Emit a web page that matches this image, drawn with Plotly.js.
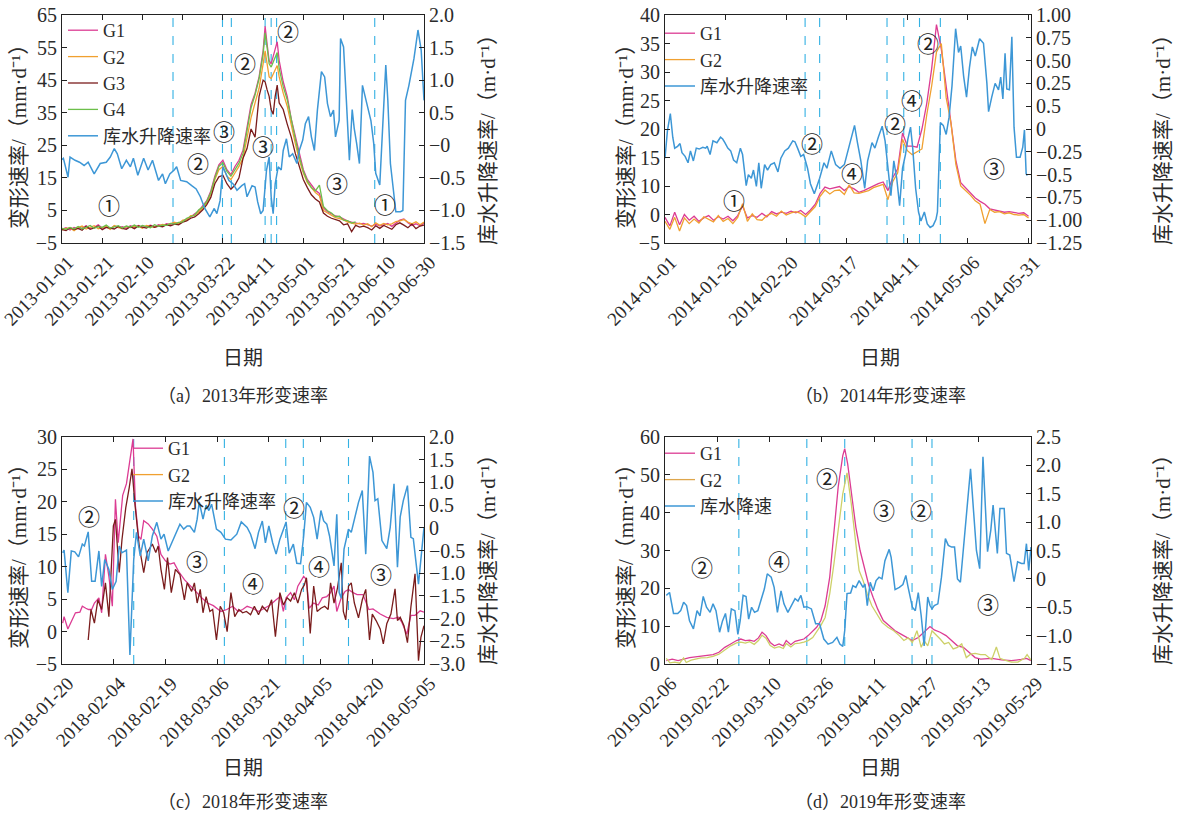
<!DOCTYPE html>
<html><head><meta charset="utf-8">
<script src="https://cdn.plot.ly/plotly-3.0.1.min.js"></script>
<style>html,body{margin:0;padding:0;background:#fff}#chart{width:1184px;height:817px}</style>
</head><body><div id="chart"></div>
<script>
// ---------------- Panel (a) 2013 ----------------
const startA = '2013-01-01';
const gDayA = [0,2,4,6,8,10,12,14,16,18,20,22,24,26,28,30,32,34,36,38,40,42,44,46,48,50,52,54,56,58,60,62,64,66,68,70,72,74,76,78,80,82,84,86,88,90,92,94,96,98,100,101,102,103,104,105,106,107,108,110,112,114,116,118,120,122,124,126,128,130,132,134,136,138,140,142,144,146,148,150,152,154,156,158,160,162,164,166,168,170,172,174,176,178,180];
const g1A = [-0.8,-0.3,-1.0,-0.2,-0.6,-0.4,0.3,-0.5,-0.2,0.6,-0.4,-0.1,-0.6,0.2,-0.3,0.0,-0.5,0.3,-0.2,0.4,-0.3,0.2,0.5,0.0,0.6,0.3,0.9,0.7,1.2,
 1.0,1.8,2.3,3.0,4.0,4.8,6.5,8.0,11.0,15.5,19.0,20.4,17.5,16.0,18.5,20.4,23.5,30.5,37.5,41.0,46.0,54.0,
 61.5,56.0,51.0,50.0,52.0,54.5,56.8,
 51.0,44.5,40.0,33.0,27.5,22.0,17.5,14.5,12.8,11.2,10.2,5.8,4.6,4.0,3.3,3.0,2.4,1.7,1.4,1.2,0.9,1.0,0.6,0.2,0.7,0.3,0.6,1.0,0.1,1.0,2.0,2.4,1.2,0.4,0.9,0.3,1.1];
const g2A = [-1.0,-0.5,-0.4,-1.2,-0.3,0.2,-0.7,-0.1,0.3,-0.6,-0.2,0.1,-0.8,0.4,-0.2,-0.6,0.1,-0.3,0.0,0.2,-0.5,0.4,0.1,-0.2,0.3,0.7,0.5,0.9,1.4,
 0.8,2.0,2.0,3.4,3.5,4.5,5.8,7.2,10.0,14.5,17.5,18.5,15.5,14.5,16.5,18.5,21.0,27.0,33.5,38.0,42.5,50.0,
 54.0,50.0,46.0,45.5,47.0,48.5,49.5,
 46.0,41.0,37.0,31.0,25.5,20.5,16.5,13.5,12.0,10.5,9.5,5.0,4.2,3.5,2.8,2.5,2.1,1.4,1.0,0.8,1.1,0.5,0.9,0.0,1.2,0.4,1.0,0.6,0.9,1.6,1.8,2.2,1.4,0.9,1.5,0.6,1.4];
const g3A = [-0.9,-1.2,-0.3,-0.9,-0.5,-1.1,0.1,-0.8,-0.4,0.2,-0.9,-0.2,-0.4,-0.7,0.1,-0.5,-0.8,0.0,-0.6,0.2,-0.1,-0.4,0.3,-0.2,0.2,0.0,0.6,0.3,0.8,
 0.6,1.4,1.8,2.6,3.0,4.0,5.2,6.8,9.0,13.2,15.3,15.8,13.2,11.5,12.8,15.0,21.0,24.0,30.0,27.5,40.0,45.0,
 44.5,42.0,40.0,36.0,34.5,40.0,43.5,
 38.0,36.0,31.5,27.5,22.5,18.5,14.5,12.0,9.8,8.5,7.6,4.2,3.2,2.6,2.1,1.8,0.6,0.9,-1.5,0.4,-0.1,0.2,-0.3,-1.0,0.3,-0.5,0.4,-0.2,-0.8,0.6,1.2,0.5,-0.3,0.8,-0.6,0.2,0.5];
const g4A = [-0.5,-0.8,-0.2,-0.7,0.1,-0.6,-0.2,0.4,-0.5,0.0,-0.2,0.5,-0.4,-0.1,0.3,-0.4,0.2,-0.1,0.5,-0.2,0.4,0.0,-0.3,0.6,0.1,0.5,0.4,1.0,0.8,
 1.3,1.5,2.6,3.2,3.6,5.2,6.0,7.8,10.5,15.0,18.5,19.6,17.0,15.5,17.5,19.5,22.5,29.5,36.5,40.5,45.5,53.0,
 59.5,55.0,50.0,49.0,50.5,52.5,53.5,
 48.5,43.0,39.0,32.5,27.0,21.5,17.0,14.0,12.0,11.0,12.8,6.2,4.9,4.2,3.1,3.2,2.0,1.9,1.1,1.5,null,null,null,null,null,null,null,null,null,null,null,null,null,null,null,null,null];
const blueDayA = [0,0.7,3,4,6.5,8.7,11,13,16,19,22,24,26,27.5,29.7,32,34,35.5,37.7,40.6,42.8,45,48,50,51.4,53.6,55.8,57,59,62,64.5,66.7,68.8,71,73.5,75.7,77,78.6,80,81.4,83,85,87,89.4,90.8,92,94.5,96,97.3,98.8,100,101.7,103,104,105,106,107.5,109,110,111.6,113,114.7,116.8,118,119.7,121,122.6,124,125.5,127,129,130.6,132,133.5,135,136,137.8,138.5,140,141.4,142.9,144.3,145.3,146.5,147.9,149.4,150.8,152,153.6,155,156,158,161,162,163.3,166,168.3,169.5,170.8,172.5,175,177,178.6,180];
const blueA = [-0.22,-0.2,-0.49,-0.18,-0.23,-0.26,-0.31,-0.26,-0.44,-0.28,-0.26,-0.18,-0.05,-0.13,-0.36,-0.23,-0.33,-0.2,-0.46,-0.2,-0.38,-0.23,-0.54,-0.44,-0.59,-0.44,-0.38,-0.33,-0.54,-0.56,-0.62,-0.67,-0.79,-0.97,-1.1,-0.97,-1.05,-0.85,-0.33,-0.44,-0.54,-0.59,-0.69,-0.62,-0.59,-0.79,-0.62,-0.64,-0.87,-1.05,-1.0,-0.38,-0.18,-0.79,-1.05,-0.59,-0.33,-0.38,-0.08,0.1,-0.18,-0.13,-0.28,-0.08,0.08,0.33,0.44,0.13,-0.08,0.54,1.13,1.05,0.64,0.44,0.54,0.13,0.38,1.64,1.51,0.69,-0.23,0.55,0.26,0.03,-0.28,0.92,0.74,0.54,0.38,0.03,-0.43,-0.61,1.23,0.7,-0.28,-1.02,-1.02,-1.0,0.69,0.92,1.33,1.77,1.46,0.69];
const dashA = [55.2,79.8,84.2,101.0,104.0,106.7,155.5];
const circA = ['①','②','③','②','③','②','③','①'];
const circDayA = [23.5,67.5,80.5,91.2,100.1,112.6,136.7,160.4];
const circValA = [7.1,19.8,29.7,50.6,25.0,60.3,13.7,7.2];
const xticksA = ['2013-01-01','2013-01-21','2013-02-10','2013-03-02','2013-03-22','2013-04-11','2013-05-01','2013-05-21','2013-06-10','2013-06-30'];
const yValsA = [-5,5,15,25,35,45,55,65];
const yTextA = ['\u22125','5','15','25','35','45','55','65'];
const y2ValsA = [-1.5,-1,-0.5,0,0.5,1,1.5,2];
const y2TextA = ['\u22121.5','\u22121.0','\u22120.5','\u22120','0.5','1.0','1.5','2.0'];

// ---------------- Panel (b) 2014 ----------------
const startB = '2014-01-01';
const gDayB = [0,2,4,6,8,10,12,14,16,18,20,22,24,26,28,30,32,34,36,38,40,42,44,46,48,50,52,54,56,58,60,62,64,66,68,70,72,74,76,78,80,82,84,86,88,90,92,94,96,98,100,102,104,106,108,110,112,114,116,118,120,122,124,126,128,130,132,134,136,138,140,142,144,146,148,150];
const g1B = [-0.5,-2.0,0.4,-1.8,0.0,-1.0,-0.3,-1.2,-0.6,-0.2,-1.0,-0.4,-0.8,-0.3,-1.1,-0.2,
 1.5,-0.6,-0.2,-0.5,0.2,-0.4,0.5,0.1,0.4,0.2,0.6,0.3,0.7,0.0,0.8,1.8,
 3.7,4.8,4.5,4.7,4.9,4.2,4.9,4.5,3.9,4.2,4.6,5.1,5.4,5.7,4.2,6.5,
 8.0,14.3,12.0,12.0,11.8,15.0,19.5,25.5,33.3,29.0,22.5,16.5,9.5,5.6,4.7,3.9,
 2.9,2.3,1.8,1.0,0.8,0.6,0.4,0.5,0.3,0.2,0.3,-0.3];
const g2B = [-1.2,-2.6,-0.5,-2.9,-0.6,-1.6,-0.8,-1.5,-0.4,-0.8,-1.3,-0.2,-1.2,-0.7,-1.6,-0.5,
 1.9,-1.2,0.1,-0.9,-1.0,-0.2,0.2,-0.3,0.6,-0.1,0.3,0.5,0.2,-0.4,0.5,1.4,
 3.2,4.3,3.6,4.2,4.3,3.5,5.2,3.8,3.7,4.0,4.2,4.7,5.0,5.3,2.6,5.8,
 7.3,13.2,11.2,10.5,11.0,11.5,17.5,22.5,28.5,30.0,20.5,16.0,8.8,5.0,4.2,3.4,
 2.4,1.8,-1.6,0.9,0.4,0.5,0.1,0.3,0.0,-0.1,0.0,-0.6];
const blueDayB = [0,1,2.2,3.2,4,5.2,6.2,7,8.3,9.5,10.5,11.7,12.9,14.1,15.6,16.8,17.4,18.6,19.8,21.4,22.9,23.8,24.7,25.9,27.1,28.3,29.6,31.1,32,33.5,34.4,35.6,36.5,37.7,38.7,39.7,41.1,42.3,43.6,45.1,46.6,47.8,49.4,50.9,52.7,53.6,54.7,56,57.2,58.8,60,61.6,63.8,65.6,66.8,68.6,70.4,72.2,74,75.6,77,78.2,79.4,80.8,82.4,83.6,85.4,86.6,88,89.6,90.8,92,93.2,94.4,95.6,96.8,98,99.2,100.2,101.3,102.2,103.4,104.6,105.6,107,108.2,109.4,110.6,111.8,112.4,113.6,114.8,116,117.2,118.4,119.9,121.1,122,123.2,124.4,125.6,126.8,128,129.8,131.4,132.8,133.5,134.8,136.2,137.6,138.5,139.4,140.3,141,142.1,143.1,144,145,146.5,147.6,148.3,149,149.5];
const blueB = [-0.32,-0.02,0.17,-0.09,-0.21,-0.19,-0.16,-0.26,-0.30,-0.37,-0.24,-0.35,-0.21,-0.22,-0.20,-0.21,-0.19,-0.28,-0.13,-0.15,-0.09,-0.11,-0.15,-0.21,-0.24,-0.34,-0.37,-0.21,-0.28,-0.62,-0.50,-0.54,-0.45,-0.63,-0.37,-0.65,-0.39,-0.45,-0.39,-0.37,-0.47,-0.32,-0.24,-0.21,-0.13,-0.14,-0.21,-0.30,-0.28,-0.43,-0.60,-0.71,-0.54,-0.37,-0.43,-0.24,-0.39,-0.43,-0.39,-0.22,-0.06,0.04,-0.15,-0.35,-0.65,-0.35,-0.15,-0.21,-0.09,0.03,-0.13,-0.43,-0.73,-0.35,-0.54,-0.84,-0.43,-0.28,-0.11,0.02,-0.21,-0.65,-0.91,-1.01,-0.91,-1.04,-1.08,-1.06,-0.99,-0.91,0.07,0.04,-0.06,0.13,0.47,1.10,0.84,0.91,0.58,0.35,0.67,0.90,0.80,0.99,0.94,0.50,0.19,0.35,0.50,0.43,0.57,0.33,0.83,0.44,0.43,1.01,0.02,-0.31,-0.31,-0.20,-0.01,-0.49,-0.51];
const dashB = [57.8,63.8,91.6,98.5,105.0,113.6];
const circB = ['①','②','④','②','④','②','③'];
const circDayB = [28.3,60.8,77.2,95.0,101.9,108.4,135.8];
const circValB = [2.8,12.7,7.5,16.3,20.2,30.3,8.4];
const xticksB = ['2014-01-01','2014-01-26','2014-02-20','2014-03-17','2014-04-11','2014-05-06','2014-05-31'];
const yValsB = [-5,0,5,10,15,20,25,30,35];
const yTextB = ['\u22125','0','10','15','20','25','30','35','40'];
const y2ValsB = [-1.25,-1,-0.75,-0.5,-0.25,0,0.25,0.5,0.75,1,1.25];
const y2TextB = ['\u22121.25','\u22121.00','\u22120.75','\u22120.5','\u22120.25','0','0.5','0.25','0.50','0.75','1.00'];

// ---------------- Panel (c) 2018 ----------------
const startC = '2018-01-20';
const g1DayC = [0.2,0.6,1.7,2.7,3.9,5.2,5.9,6.9,7.7,8.6,9.4,10.7,11.5,12.6,13.6,14.6,15.5,16.3,17.6,18.7,19.9,20.6,21.3,22.2,22.9,23.7,25,26.2,27.5,28.7,30,31.3,32.5,33.8,35.5,37.1,38.8,40.5,42.2,43.9,46.1,47.8,49.5,51.1,52.4,53.7,55.3,57,58.7,60.4,62.1,63.3,64.2,65,66.3,67.4,68.4,69.5,70.1,70.9,71.7,73,74.3,75.5,76.8,77.9,78.9,79.7,81,82.1,83.1,84.4,85.6,87.3,89,90.2,92.3,94.2,96.1,97.6,98.6,100,101.2,102.4,103.9,105];
const g1C = [1.3,2.3,0.4,1.6,2.9,3.0,3.9,3.6,3.4,3.4,4.4,5.2,2.9,11.9,8.5,3.9,20.4,13.7,21,22.8,26.9,29.7,19.4,14.7,14.2,17.1,16.6,15.8,14.7,11.9,10.9,10.4,10.6,9.3,8.0,7.2,6.2,5.2,4.4,4.0,3.1,3.4,3.9,3.1,3.4,3.9,3.6,3.1,3.6,4.1,4.9,5.4,3.1,5.2,6.0,4.9,7.0,8.0,8.5,8.0,3.6,4.4,4.1,5.2,5.4,6.0,7.0,3.1,5.2,6.2,6.5,6.0,5.7,5.7,3.4,3.5,2.7,2.2,2.0,2.2,1.4,-0.4,2.5,2.5,3.2,3.0];
const g2DayC = [7.6,8.4,9.4,10.4,11.5,12.6,13.6,14.9,15.5,16.6,17.4,18.5,19.5,20.3,21.2,22.4,23.7,24.7,26.2,27.2,27.9,28.7,29.7,30.6,31.7,32.9,34.2,35.5,36.3,37.6,38.4,39.2,40.1,40.9,41.8,42.9,43.7,44.8,45.9,46.9,47.9,49,50.1,51.3,52.4,53.5,54.7,55.8,57,58.1,59.5,60.8,61.9,63.2,64.2,65.3,66.3,67.4,68.4,69.5,70.3,70.9,72,73,74,75.1,76.2,77.2,77.9,78.9,79.9,81,81.6,82.3,83.1,83.9,84.8,86,87.1,88.1,89.2,90,91.1,92.3,93.2,94.2,95.4,96.6,97.3,98.1,99.2,100.2,101.2,102.4,103.4,104.1,105];
const g2C = [-1.3,3.4,1.3,4.9,3.4,7.5,2.3,16.3,17.3,9.1,14.2,19.1,22.2,25.1,19.4,13.2,9.1,12.2,13.5,12.2,13.2,9.6,6.5,11.4,6.0,9.6,8.8,4.9,7.5,6.2,7.5,4.4,6.5,2.9,5.4,3.1,3.4,-1.3,3.9,2.9,0.0,6.0,2.3,3.4,2.9,3.1,2.6,3.9,2.6,3.9,3.1,4.9,-0.8,6.0,4.1,5.2,4.7,6.0,4.4,6.5,7.2,8.3,-0.3,7.0,3.1,3.6,3.9,3.4,7.5,4.4,6.7,10.6,3.1,1.8,7.0,7.5,4.4,2.1,4.9,6.5,-1.3,2.7,1.7,0.4,-1.9,1.2,2.7,6.6,1.7,2.2,0.9,-1.7,3.8,8.9,-4.5,-0.9,0.9];
const blueDayC = [0.2,0.6,1.7,2.7,3.7,4.8,5.9,6.5,7.6,8.6,9.6,10.7,11.5,12.4,13.6,14.6,15.7,16.6,17.4,18.7,19.7,20.8,21.6,22.7,23.7,25,26.2,27.5,28.7,29.6,30.8,32.1,33.4,34.2,35.3,36.3,37.1,38.4,39.2,39.8,40.9,41.8,42.6,43.4,44.8,46.1,47.4,49,50.7,52,53.7,54.7,56,57,58.1,59,60,61.1,62.1,63.2,65,65.9,67.1,68.1,69.2,70.1,70.9,72,73,74,75.1,75.9,76.8,77.6,78.9,79.7,80.4,81,81.8,83.1,83.9,85.2,86,87.1,88.1,89.2,90.2,90.8,91.6,92.8,94.2,95.2,96.3,97.3,98.1,99,100.2,101.2,101.9,103.4,104.1,105];
const blueC = [-0.55,-0.49,-1.43,-0.51,-0.53,-0.64,-0.36,-0.40,-0.09,-1.18,-1.18,-0.51,-1.29,-0.70,-0.92,-1.36,-1.18,-0.40,-0.55,-0.49,-2.80,-0.70,-0.10,-0.62,-0.25,-0.73,-0.18,0.12,-0.25,-0.14,-0.51,-0.29,-0.03,0.08,-0.03,0.04,0.04,-0.10,0.19,0.57,0.19,0.50,0.38,0.52,-0.03,-0.10,-0.25,-0.27,-0.14,0.13,0.01,-0.14,-0.46,-0.10,0.15,-0.33,0.04,-0.33,-0.58,-0.25,0.13,-0.56,-0.36,-0.78,-0.79,-0.18,0.56,0.45,0.23,-0.25,0.38,0.15,0.08,-0.18,-0.84,0.30,-1.43,-1.55,-0.47,-0.03,-0.10,0.34,0.56,0.82,-0.58,1.58,1.22,0.60,0.64,-0.28,-0.46,0.01,0.97,-0.87,0.24,0.60,0.93,-0.21,-0.24,-1.24,-0.72,0.01];
const dashC = [20.8,47.1,64.9,70.0,83.1];
const circC = ['②','③','④','②','④','③'];
const circDayC = [7.7,39.1,55.3,67.3,74.6,92.5];
const circValC = [17.9,11.1,7.7,19.3,10.2,9.0];
const xticksC = ['2018-01-20','2018-02-04','2018-02-19','2018-03-06','2018-03-21','2018-04-05','2018-04-20','2018-05-05'];
const yValsC = [-5,0,5,10,15,20,25,30];
const yTextC = ['\u22125','0','5','10','15','20','25','30'];
const y2ValsC = [-3,-2.5,-2,-1.5,-1,-0.5,0,0.5,1,1.5,2];
const y2TextC = ['\u22123.0','\u22122.5','\u22122.0','\u22121.5','\u22121.0','\u22120.5','0','0.5','1.0','1.5','2.0'];

// ---------------- Panel (d) 2019 ----------------
const startD = '2019-02-06';
const g1DayD = [0.4,2.2,4,5.7,7.5,9.3,11.1,12.9,14.7,16.5,18.3,20.1,21.9,23.2,24.6,25.9,27.3,28.6,29.7,30.9,32.2,33.5,34.9,36.2,37.1,38.5,39.8,41.2,42.5,43.8,45.2,46.4,47.7,49,50.4,51.7,53,54.4,55,55.9,57,58.4,59.7,61,62.4,63.7,65.1,66.8,68.6,70.4,72.2,74,75.7,77.5,79.3,81.1,82.4,84.2,86,87.7,89.5,91.3,93.1,94.9,96.6,100,103,106,109,110.6,112];
const g1D = [0.9,1.3,0.9,1.3,1.7,1.9,2.1,2.2,2.5,3.1,4.4,5.3,6.2,6.6,6.2,6.3,6.0,6.9,8.4,7.5,5.7,4.8,5.3,4.8,6.2,5.1,6.0,6.3,6.6,7.5,8.8,9.7,11.5,15.4,22.9,35.3,46.8,55.1,56.9,52.9,45.0,36.2,30,25.6,20.7,17.6,14.5,11.5,10.1,8.8,7.9,7.0,6.2,7.0,8.4,9.9,9.0,8.4,7.5,6.2,4.8,4.4,3.1,1.7,1.3,1.5,1.1,0.9,1.2,1.5,0.9];
const g2DayD = [0.4,1.5,3,4.5,5.7,6.5,8,9.5,11,12.9,14.7,16.5,18.3,20.1,21.9,23.2,24.6,25.9,27.3,28.6,29.7,30.9,32.2,33.5,34.9,36.2,37.1,38.5,39.8,41.2,42.5,43.8,45.2,46.4,47.7,49,50.4,51.7,53,54.4,55.7,57,58.4,59.4,60.6,61.9,63.3,64.6,66.4,68.2,70,71.7,73.1,74.4,75.7,77.1,78.4,79.3,80.4,81.7,82.8,84.2,85.5,86.8,88.2,89.5,90.8,92.2,93.5,94.9,96.6,98,99,100,101.4,102.5,104,106,108,110,110.8,112];
const g2D = [1.5,0.3,0.5,0.2,1.6,0.4,1.0,1.3,1.6,1.7,2.0,2.6,3.8,4.8,5.6,5.8,5.5,5.9,5.2,6.2,7.6,6.8,4.9,4.2,4.6,4.1,5.4,4.5,5.4,5.5,5.8,6.2,7.0,8.5,10.2,12.3,18.5,26.5,36.2,45,50.5,42.4,31.8,24.7,22.1,18.5,15.4,13.7,11.0,9.7,8.8,7.5,6.2,6.9,5.7,8.8,4.4,6.2,4.8,8.8,7.9,6.6,5.3,5.7,4.0,4.4,5.3,1.7,2.6,2.8,2.5,2.5,1.8,1.2,4.5,1.5,1.0,0.5,0.5,1.5,2.5,1.0];
const blueDayD = [0.4,1.4,2.6,3.9,4.8,5.7,6.6,7.5,8.7,9.8,10.7,11.7,12.7,13.8,14.7,15.6,16.7,17.6,18.5,19.4,20.3,21.4,22.3,23,23.9,24.8,25.6,26.5,27.4,28.4,29.5,30.4,31.3,32.5,33.4,34.4,35.5,36.4,37.6,38.7,39.8,40.7,41.6,42.5,43.4,44.8,46.1,47.3,48.6,49.9,51.3,52.6,53.5,54.4,55,55.7,56.8,57.5,58.4,59.4,60.6,61.2,61.9,62.8,63.7,64.6,65.5,66.4,67.3,68.6,69.2,70.4,71.7,72.8,73.7,74.4,75.7,76.6,77.5,78.4,79.3,79.9,80.4,81.1,81.7,82.4,83.5,84.6,85.8,86.7,87.7,88.6,89.5,90.4,91.3,92.4,93.5,94.4,95.3,96.3,97.3,98.7,99.7,100.4,101.1,101.7,102.5,103.8,104.5,105.5,106.8,107.9,109.1,109.9,110.6,111.3,112];
const blueD = [-0.29,-0.24,-0.61,-0.61,-0.56,-0.41,-0.47,-0.74,-0.88,-0.56,-0.65,-0.31,-0.50,-0.59,-0.44,-0.56,-0.94,-0.74,-0.61,-0.94,-0.53,-0.56,-0.98,-0.74,-0.29,-0.31,-0.71,-0.50,-0.59,-0.56,-0.35,-0.18,0.09,0.03,-0.15,-0.59,-0.21,-0.44,-0.59,-0.47,-0.35,-0.39,-0.29,-0.50,-0.49,-0.53,-0.79,-0.79,-1.06,-1.15,-1.12,-1.03,-1.15,-1.19,-0.91,-0.26,-0.25,-0.12,-0.15,-0.03,-0.15,-0.09,-0.47,-0.06,-0.21,-0.03,0.03,0.00,0.32,0.52,0.38,-0.19,-0.15,-0.10,0.06,-0.15,-0.50,-0.56,-0.24,-0.65,-1.18,-0.74,-0.32,-0.47,-0.53,-0.47,-0.44,0.03,0.71,0.59,0.56,0.56,0.00,-0.06,0.50,1.12,1.94,1.21,0.50,0.18,2.15,0.48,0.86,1.30,0.80,0.45,1.24,1.24,0.45,0.42,-0.05,0.30,0.27,0.27,0.62,0.15,0.56];
const dashD = [22.6,43.4,55.0,75.6,81.7];
const circD = ['②','④','②','③','②','③'];
const circDayD = [11.3,35.0,49.5,67.0,78.4,98.9];
const circValD = [26.0,27.6,49.4,40.9,40.9,16.2];
const xticksD = ['2019-02-06','2019-02-22','2019-03-10','2019-03-26','2019-04-11','2019-04-27','2019-05-13','2019-05-29'];
const yValsD = [0,10,20,30,40,50,60];
const yTextD = ['0','10','20','30','40','50','60'];
const y2ValsD = [-1.5,-1,-0.5,0,0.5,1,1.5,2,2.5];
const y2TextD = ['\u22121.5','\u22121.0','\u22120.5','0','0.5','1.0','1.5','2.0','2.5'];

// ---------------- helpers ----------------
const FONT = "'Liberation Serif','Times New Roman','Noto Sans CJK SC',serif";
const CIRC = "'Noto Sans CJK SC','Noto Sans CJK JP',sans-serif";
const TXT = '#2b2b2b', AX = '#222';
const C = {g1:'#dc3c93', g2:'#f0a030', g3:'#7a1c1c', g4:'#6cbf4a', blue:'#3d97d6', dash:'#33b1e3', g2d:'#cdd068', g2dLeg:'#dea64c'};
const W = 1184, H = 817;

function dts(start, offs){
  const t0 = Date.parse(start + 'T00:00:00Z');
  return offs.map(d => new Date(t0 + Math.round(d*86400000)).toISOString().slice(0,19).replace('T',' '));
}
function line(xa, ya, start, days, vals, name, color, legend, show, width){
  return {type:'scatter', mode:'lines', xaxis:xa, yaxis:ya, x:dts(start, days), y:vals, name:name,
    line:{color:color, width:width||1.3}, legend:legend, showlegend:show!==false, connectgaps:false, hoverinfo:'skip'};
}
function dummy(name, color, legend){
  return {type:'scatter', mode:'lines', x:[null], y:[null], xaxis:'x', yaxis:'y', name:name, line:{color:color, width:1.3}, legend:legend, showlegend:true};
}

const traces = [];
traces.push(line('x','y',startA,gDayA,g1A,'G1',C.g1,'legend'));
traces.push(line('x','y',startA,gDayA,g2A,'G2',C.g2,'legend'));
traces.push(line('x','y',startA,gDayA,g3A,'G3',C.g3,'legend'));
traces.push(line('x','y',startA,gDayA,g4A,'G4',C.g4,'legend'));
traces.push(line('x','y2',startA,blueDayA,blueA,'库水升降速率',C.blue,'legend',true,1.5));
traces.push(line('x2','y3',startB,gDayB,g1B,'G1',C.g1,'legend2'));
traces.push(line('x2','y3',startB,gDayB,g2B,'G2',C.g2,'legend2'));
traces.push(line('x2','y4',startB,blueDayB,blueB,'库水升降速率',C.blue,'legend2',true,1.5));
traces.push(line('x3','y5',startC,g1DayC,g1C,'G1',C.g1,'legend3'));
traces.push(dummy('G2',C.g2,'legend3'));
traces.push(line('x3','y5',startC,g2DayC,g2C,'G2',C.g3,'legend3',false));
traces.push(line('x3','y6',startC,blueDayC,blueC,'库水升降速率',C.blue,'legend3',true,1.5));
traces.push(line('x4','y7',startD,g1DayD,g1D,'G1',C.g1,'legend4'));
traces.push(dummy('G2',C.g2dLeg,'legend4'));
traces.push(line('x4','y7',startD,g2DayD,g2D,'G2',C.g2d,'legend4',false));
traces.push(line('x4','y8',startD,blueDayD,blueD,'库水降速',C.blue,'legend4',true,1.5));

const tickFont = {family:FONT, size:19, color:TXT};
function xAx(domain, anchor, range, tv){
  return {domain:domain, anchor:anchor, type:'date', range:range, tickvals:tv, ticktext:tv, tickangle:-45,
    ticks:'inside', ticklen:5, tickcolor:AX, showline:true, linecolor:AX, linewidth:1, mirror:'ticks',
    showgrid:false, zeroline:false, tickfont:tickFont, ticklabeloverflow:'allow', ticklabelshift:6, fixedrange:true};
}
function yL(domain, anchor, range, tv, tt){
  return {domain:domain, anchor:anchor, range:range, tickvals:tv, ticktext:tt, ticks:'inside', ticklen:5, tickcolor:AX,
    showline:true, linecolor:AX, linewidth:1, showgrid:false, zeroline:false, tickfont:{family:FONT, size:20, color:TXT}, ticklabeloverflow:'allow'};
}
function yR(over, anchor, range, tv, tt){
  return {overlaying:over, side:'right', anchor:anchor, range:range, tickvals:tv, ticktext:tt, ticks:'inside', ticklen:5, tickcolor:AX,
    showline:true, linecolor:AX, linewidth:1, showgrid:false, zeroline:false, tickfont:{family:FONT, size:20, color:TXT}, ticklabeloverflow:'allow'};
}
const dxL = [62/W, 424/W], dxR = [665/W, 1031/W];
const dyT = [1-243/H, 1-15/H], dyB = [1-664/H, 1-437/H];

const shapes = [];
function dashes(start, arr, xref, yref){
  dts(start, arr).forEach(d => shapes.push({type:'line', xref:xref, yref:yref+' domain', x0:d, x1:d, y0:0, y1:1, layer:'below',
    line:{color:C.dash, width:1.1, dash:'dash'}}));
}
dashes(startA, dashA, 'x', 'y');
dashes(startB, dashB, 'x2', 'y3');
dashes(startC, dashC, 'x3', 'y5');
dashes(startD, dashD, 'x4', 'y7');

const ann = [];
function circles(start, labels, days, vals, xref, yref){
  const xs = dts(start, days);
  labels.forEach((t,i) => ann.push({xref:xref, yref:yref, x:xs[i], y:vals[i], text:t, showarrow:false,
    font:{family:CIRC, size:22, color:'#222'}}));
}
circles(startA, circA, circDayA, circValA, 'x', 'y');
circles(startB, circB, circDayB, circValB, 'x2', 'y3');
circles(startC, circC, circDayC, circValC, 'x3', 'y5');
circles(startD, circD, circDayD, circValD, 'x4', 'y7');
function pa(px, py, text, size, angle){
  ann.push({xref:'paper', yref:'paper', x:px/W, y:1-py/H, text:text, showarrow:false, textangle:angle||0,
    xanchor:'center', yanchor:'middle', font:{family:FONT, size:size, color:TXT}});
}
const yLeftT = '变形速率/（mm·d⁻¹）';
const yRightT = '库水升降速率/（m·d⁻¹）';
pa(19,132,yLeftT,21,-90); pa(488,135,yRightT,21,-90);
pa(626,132,yLeftT,21,-90); pa(1163,135,yRightT,21,-90);
pa(19,552,yLeftT,21,-90); pa(488,555,yRightT,21,-90);
pa(626,552,yLeftT,21,-90); pa(1163,555,yRightT,21,-90);
pa(243,358,'日期',20); pa(880,358,'日期',20);
pa(243,768,'日期',20); pa(880,768,'日期',20);
pa(243,396,'（a）2013年形变速率',18); pa(880,396,'（b）2014年形变速率',18);
pa(243,802,'（c）2018年形变速率',18); pa(880,802,'（d）2019年形变速率',18);

function leg(px, py){
  return {x:px/W, y:1-py/H, xanchor:'left', yanchor:'top', bgcolor:'rgba(0,0,0,0)', borderwidth:0,
    font:{family:FONT, size:18, color:TXT}, tracegroupgap:0, itemwidth:30};
}

const layout = {
  width:W, height:H, margin:{l:0,r:0,t:0,b:0}, paper_bgcolor:'#fff', plot_bgcolor:'rgba(0,0,0,0)',
  showlegend:true,
  xaxis: xAx(dxL,'y',['2013-01-01','2013-06-30'],xticksA),
  yaxis: yL(dyT,'x',[-5,65],yValsA,yTextA),
  yaxis2: yR('y','x',[-1.5,2],y2ValsA,y2TextA),
  xaxis2: xAx(dxR,'y3',['2014-01-01','2014-06-01'],xticksB),
  yaxis3: yL(dyT,'x2',[-5,35],yValsB,yTextB),
  yaxis4: yR('y3','x2',[-1.25,1.25],y2ValsB,y2TextB),
  xaxis3: xAx(dxL,'y5',['2018-01-20','2018-05-05'],xticksC),
  yaxis5: yL(dyB,'x3',[-5,30],yValsC,yTextC),
  yaxis6: yR('y5','x3',[-3,2],y2ValsC,y2TextC),
  xaxis4: xAx(dxR,'y7',['2019-02-06','2019-05-29'],xticksD),
  yaxis7: yL(dyB,'x4',[0,60],yValsD,yTextD),
  yaxis8: yR('y7','x4',[-1.5,2.5],y2ValsD,y2TextD),
  legend: leg(63,12), legend2: leg(660,15), legend3: leg(128,430), legend4: leg(660,435),
  shapes:shapes, annotations:ann
};
Plotly.newPlot('chart', traces, layout, {staticPlot:true, displayModeBar:false});
</script></body></html>
